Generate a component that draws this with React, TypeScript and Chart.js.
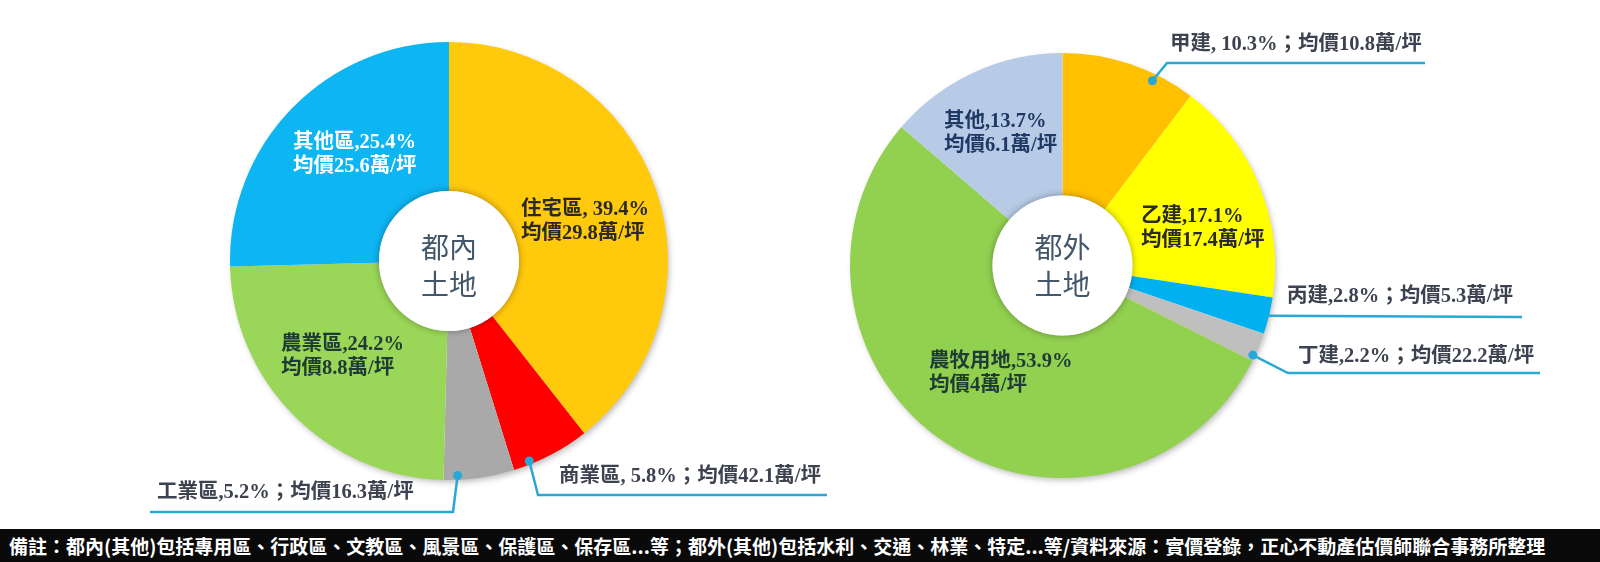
import React, { useEffect, useRef } from 'react';
import { Chart, registerables } from 'chart.js';

Chart.register(...registerables);

// ---------- data ----------
const urbanCategories = ['住宅區', '商業區', '工業區', '農業區', '其他區'];
const urbanShares = [39.4, 5.8, 5.2, 24.2, 25.4];
const urbanPrices = ['29.8', '42.1', '16.3', '8.8', '25.6'];
const urbanSeps = [', ', ', ', ',', ',', ','];
const urbanColors = ['#FFC90C', '#FF0000', '#A9A9A9', '#9AD657', '#0DB5F3'];

const ruralCategories = ['甲建', '乙建', '丙建', '丁建', '農牧用地', '其他'];
const ruralShares = [10.3, 17.1, 2.8, 2.2, 53.9, 13.7];
const ruralPrices = ['10.8', '17.4', '5.3', '22.2', '4', '6.1'];
const ruralSeps = [', ', ',', ',', ',', ',', ','];
const ruralColors = ['#FFC000', '#FFFF00', '#00B0F0', '#BFBFBF', '#92D050', '#B7CBE6'];

const urbanCenter = ['都內', '土地'];
const ruralCenter = ['都外', '土地'];

const footerNote =
  '備註：都內(其他)包括專用區、行政區、文教區、風景區、保護區、保存區...等；都外(其他)包括水利、交通、林業、特定...等/資料來源：實價登錄，正心不動產估價師聯合事務所整理';

// ---------- layout (positions / styles only) ----------
type Inner = { kind: 'inner'; i: number; x: number; y: number; color: string };
type Callout = {
  kind: 'callout';
  i: number;
  x: number;
  y: number;
  t: number;
  rf: number;
  dot: boolean;
  path: [number, number][];
};
type Lbl = Inner | Callout;

const urbanLayout: Lbl[] = [
  { kind: 'inner', i: 0, x: 521, y: 210, color: '#2a2a2a' },
  { kind: 'callout', i: 1, x: 559, y: 477, t: 0.78, rf: 0.984, dot: true, path: [[538, 495], [827, 495]] },
  { kind: 'callout', i: 2, x: 157, y: 493, t: 0.8, rf: 0.98, dot: true, path: [[453, 512], [150, 512]] },
  { kind: 'inner', i: 3, x: 281, y: 345, color: '#1f3b35' },
  { kind: 'inner', i: 4, x: 293, y: 143, color: '#ffffff' },
];

const ruralLayout: Lbl[] = [
  { kind: 'callout', i: 0, x: 1170, y: 45, t: 0.7, rf: 0.967, dot: true, path: [[1167, 63], [1425, 63]] },
  { kind: 'inner', i: 1, x: 1141, y: 217, color: '#2a2a2a' },
  { kind: 'callout', i: 2, x: 1287, y: 297, t: 0.5, rf: 1.0, dot: false, path: [[1522, 317]] },
  { kind: 'callout', i: 3, x: 1298, y: 357, t: 0.82, rf: 0.99, dot: true, path: [[1288, 373], [1540, 373]] },
  { kind: 'inner', i: 4, x: 929, y: 362, color: '#1f3b35' },
  { kind: 'inner', i: 5, x: 944, y: 122, color: '#1f3864' },
];

const LABEL_FONT = 'bold 20.5px "Liberation Serif", "Noto Sans CJK TC", serif';
const CENTER_FONT = '28px "Noto Sans CJK TC", "Noto Sans", sans-serif';
const LINE_COLOR = '#29A8D8';
const CALLOUT_TEXT = '#3d4250';

function makePlugin(
  categories: string[],
  shares: number[],
  prices: string[],
  seps: string[],
  layout: Lbl[],
  centerText: string[],
  holeR: number
) {
  return {
    id: 'decor',
    beforeDatasetsDraw(chart: any) {
      const meta = chart.getDatasetMeta(0);
      const a = meta.data[0];
      if (!a) return;
      const ctx = chart.ctx;
      ctx.save();
      ctx.beginPath();
      ctx.arc(a.x, a.y, a.outerRadius - 1, 0, Math.PI * 2);
      ctx.fillStyle = '#ffffff';
      ctx.shadowColor = 'rgba(0,0,0,0.28)';
      ctx.shadowBlur = 6;
      ctx.shadowOffsetX = 2;
      ctx.shadowOffsetY = 3;
      ctx.fill();
      ctx.restore();
    },
    afterDatasetsDraw(chart: any) {
      const ctx = chart.ctx;
      const meta = chart.getDatasetMeta(0);
      const a0 = meta.data[0];
      const cx = a0.x;
      const cy = a0.y;
      // hole with soft halo
      ctx.save();
      ctx.beginPath();
      ctx.arc(cx, cy, holeR, 0, Math.PI * 2);
      ctx.fillStyle = '#ffffff';
      ctx.shadowColor = 'rgba(0,0,0,0.35)';
      ctx.shadowBlur = 7;
      ctx.fill();
      ctx.restore();

      // center text
      ctx.save();
      ctx.font = CENTER_FONT;
      ctx.fillStyle = '#43576a';
      ctx.textAlign = 'center';
      ctx.textBaseline = 'middle';
      ctx.fillText(centerText[0], cx, 247);
      ctx.fillText(centerText[1], cx, 284);
      ctx.restore();

      ctx.save();
      ctx.font = LABEL_FONT;
      ctx.textBaseline = 'middle';
      ctx.textAlign = 'left';
      for (const L of layout) {
        const pct = categories[L.i] + seps[L.i] + shares[L.i].toFixed(1) + '%';
        const price = '均價' + prices[L.i] + '萬/坪';
        if (L.kind === 'inner') {
          ctx.fillStyle = L.color;
          ctx.fillText(pct, L.x, L.y);
          ctx.fillText(price, L.x, L.y + 24);
        } else {
          const arc = meta.data[L.i];
          const ang = arc.startAngle + (arc.endAngle - arc.startAngle) * L.t;
          const r = arc.outerRadius * L.rf;
          const px = arc.x + Math.cos(ang) * r;
          const py = arc.y + Math.sin(ang) * r;
          ctx.strokeStyle = LINE_COLOR;
          ctx.lineWidth = 2.5;
          ctx.beginPath();
          ctx.moveTo(px, py);
          for (const [qx, qy] of L.path) ctx.lineTo(qx, qy);
          ctx.stroke();
          if (L.dot) {
            ctx.beginPath();
            ctx.arc(px, py, 4.5, 0, Math.PI * 2);
            ctx.fillStyle = LINE_COLOR;
            ctx.fill();
          }
          ctx.fillStyle = CALLOUT_TEXT;
          ctx.fillText(pct + '；' + price, L.x, L.y);
        }
      }
      ctx.restore();
    },
  };
}

const W = 1600;
const H = 529;

function makeChart(
  canvas: HTMLCanvasElement,
  categories: string[],
  shares: number[],
  colors: string[],
  padding: { left: number; right: number; top: number; bottom: number },
  cutout: string,
  plugin: any
) {
  return new Chart(canvas, {
    type: 'doughnut',
    data: {
      labels: categories,
      datasets: [
        {
          data: shares,
          backgroundColor: colors,
          borderWidth: 0,
        },
      ],
    },
    options: {
      responsive: false,
      animation: false,
      cutout,
      layout: { padding },
      plugins: { legend: { display: false }, tooltip: { enabled: false } },
      events: [],
    },
    plugins: [plugin],
  });
}

export default function App() {
  const leftRef = useRef<HTMLCanvasElement>(null);
  const rightRef = useRef<HTMLCanvasElement>(null);

  useEffect(() => {
    const c1 = makeChart(
      leftRef.current!,
      urbanCategories,
      urbanShares,
      urbanColors,
      { left: 230, right: W - 668, top: 42, bottom: H - 480 },
      '32%',
      makePlugin(urbanCategories, urbanShares, urbanPrices, urbanSeps, urbanLayout, urbanCenter, 70)
    );
    const c2 = makeChart(
      rightRef.current!,
      ruralCategories,
      ruralShares,
      ruralColors,
      { left: 850, right: W - 1275, top: 53, bottom: H - 478 },
      '33%',
      makePlugin(ruralCategories, ruralShares, ruralPrices, ruralSeps, ruralLayout, ruralCenter, 70)
    );
    return () => {
      c1.destroy();
      c2.destroy();
    };
  }, []);

  return (
    <div style={{ position: 'fixed', left: 0, top: 0, width: 1600, height: 562, background: '#ffffff', overflow: 'hidden' }}>
      <canvas ref={leftRef} width={W} height={H} style={{ position: 'absolute', left: 0, top: 0, width: W, height: H }} />
      <canvas ref={rightRef} width={W} height={H} style={{ position: 'absolute', left: 0, top: 0, width: W, height: H }} />
      <div
        style={{
          position: 'absolute',
          left: 0,
          top: 529,
          width: 1600,
          height: 33,
          background: '#0a0a0a',
          color: '#ffffff',
          fontFamily: '"Noto Sans CJK TC", "Noto Sans", sans-serif',
          fontWeight: 700,
          fontSize: 19,
          lineHeight: '33px',
          paddingLeft: 9,
          whiteSpace: 'nowrap',
          boxSizing: 'border-box',
        }}
      >
        {footerNote}
      </div>
    </div>
  );
}
